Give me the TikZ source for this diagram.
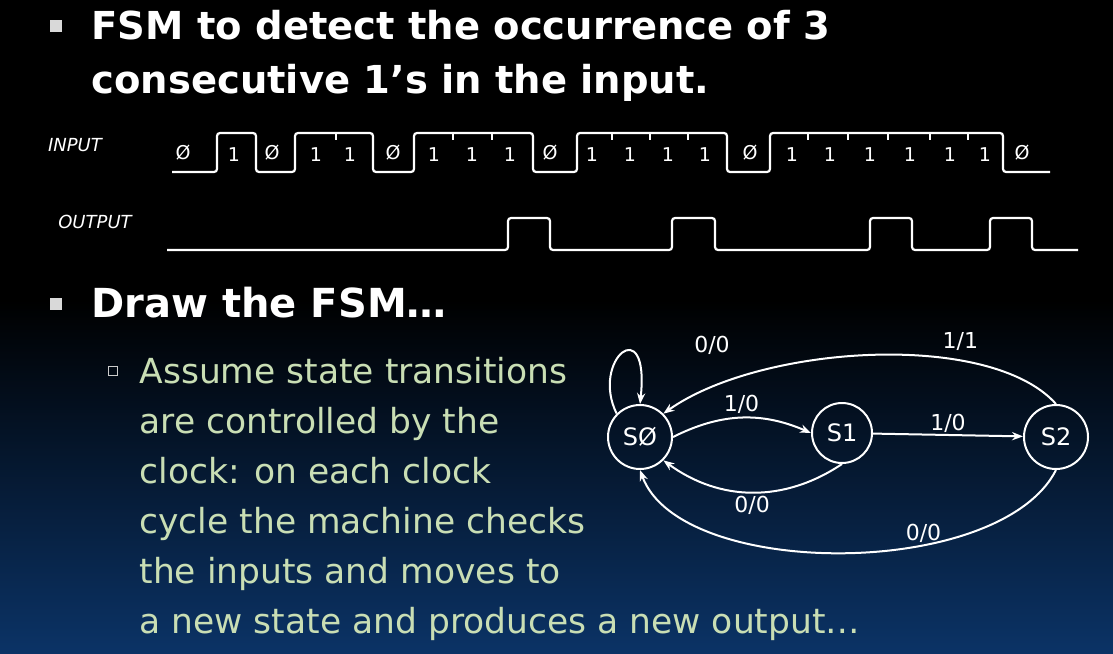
\documentclass[tikz,border=0pt]{standalone}
\usepackage{fontspec}
\setmainfont{DejaVu Sans}
\usetikzlibrary{arrows.meta,positioning}
\definecolor{deepblue}{HTML}{0B3366}
\definecolor{palegreen}{HTML}{C9DEB4}
\tikzset{
  state/.style={draw=white,circle,line width=2pt,minimum size=64pt,inner sep=0pt,text=white,font=\fontsize{24}{26}\selectfont},
  trans/.style={draw=white,line width=2pt,-{Stealth[length=11pt]}},
  lab/.style={text=white,font=\fontsize{22}{24}\selectfont},
  bit/.style={text=white,font=\fontsize{19}{20}\selectfont},
  wave/.style={draw=white,line width=2.2pt,rounded corners=3pt},
  title/.style={text=white,anchor=west,font=\fontsize{38.5}{40}\bfseries\selectfont},
  sub/.style={text=palegreen,anchor=base west,font=\fontsize{34.5}{36}\selectfont}
}
\begin{document}
\begin{tikzpicture}[x=1pt,y=-1pt]
\useasboundingbox (0,0) rectangle (1113,653);
\fill[black] (0,0) rectangle (1113,653);
\shade[top color=black,bottom color=deepblue] (0,300) rectangle (1113,653);

% title bullets
\fill[white!85!black] (50,20) rectangle (62,32);
\fill[white!85!black] (50,298) rectangle (62,310);
\draw[white!80!black,line width=1pt] (108,366) rectangle (117,375);
\node[title] (t1) at (88,25) {FSM to detect the occurrence of 3};
\node[title] (t2) at (88,83) {consecutive 1’s in the input.};
\node[title,font=\fontsize{40}{42}\bfseries\selectfont] (t3) at (88,303) {Draw the FSM…};
\foreach \txt [count=\i] in {Assume state transitions,are controlled by the,clock: on each clock,cycle the machine checks,the inputs and moves to,a new state and produces a new output…}
  \node[sub] (s\i) at (136,333+50*\i) {\txt};

% waveforms
\node[bit,font=\fontsize{18}{20}\itshape\selectfont] (in) at (75,145) {INPUT};
\node[bit,font=\fontsize{18}{20}\itshape\selectfont] (out) at (95,222) {OUTPUT};
\draw[wave] (172,172) -- (217,172) -- (217,133) -- (256,133) -- (256,172) -- (295,172)
  -- (295,133) -- (373,133) -- (373,172) -- (414,172) -- (414,133) -- (533,133)
  -- (533,172) -- (577,172) -- (577,133) -- (727,133) -- (727,172) -- (770,172)
  -- (770,133) -- (1003,133) -- (1003,172) -- (1050,172);
\foreach \x in {336,453,492,612,650,688,808,848,888,930,968}
  \draw[white,line width=1.5pt] (\x,133) -- (\x,140);
\foreach \x in {183,272,393,550,750,1022}
  \node[bit] at (\x,153) {Ø};
\foreach \x in {234,316,350,434,472,510,592,630,668,705,792,830,870,910,950,985}
  \node[bit] at (\x,155) {1};
\draw[wave] (167,250) -- (508,250) -- (508,218) -- (550,218) -- (550,250) -- (672,250)
  -- (672,218) -- (715,218) -- (715,250) -- (870,250) -- (870,218) -- (912,218)
  -- (912,250) -- (990,250) -- (990,218) -- (1032,218) -- (1032,250) -- (1078,250);

% FSM
\node[state] (s0) at (640,437) {SØ};
\node[state,minimum size=60pt] (s1) at (842,433) {S1};
\node[state] (s2) at (1056,437) {S2};
\draw[trans] (s0.north west) .. controls (590,360) and (650,310) .. (s0.north);
\draw[trans] (s0.east) to[bend left=25] node[lab,above] {1/0} (s1.west);
\draw[trans] (s1.south) to[bend left=35] node[lab,below] {0/0} (s0.south east);
\draw[trans] (s1) -- node[lab,above=-2pt] {1/0} (s2);
\draw[trans] (s2.north) .. controls (990,330) and (760,345) .. node[lab,above=6pt,pos=0.3] {1/1} (s0.north east);
\draw[trans] (s2.south) .. controls (1000,580) and (680,580) .. node[lab,above=-2pt,pos=0.35] {0/0} (s0.south);
\node[lab] (loop) at (712,345) {0/0};
\end{tikzpicture}
\end{document}
